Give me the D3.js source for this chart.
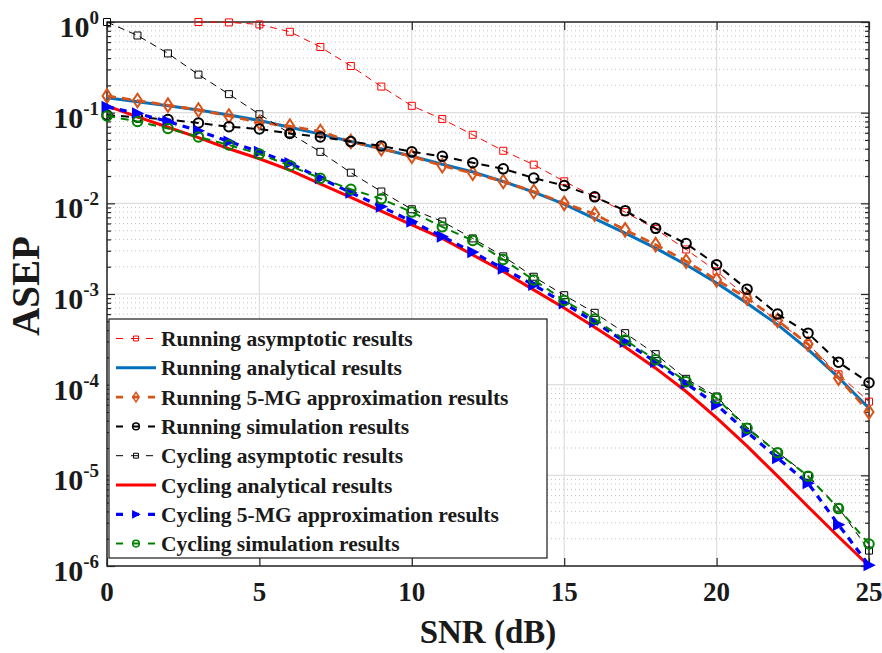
<!DOCTYPE html>
<html>
<head>
<meta charset="utf-8">
<script src="https://cdn.jsdelivr.net/npm/d3@7"></script>
<style>
  html, body { margin: 0; padding: 0; background: #fff; }
  svg { display: block; }
  text { font-family: "Liberation Serif", "Times New Roman", serif; font-weight: bold; fill: #1a1a1a; }
</style>
</head>
<body>
<svg id="chart" width="882" height="653"></svg>
<script>
// ---------------- DATA ----------------
const snr = d3.range(0, 26); // 0..25 dB
const snrRunAsym = d3.range(3, 26);

const runningAsymptotic = [1.0, 0.99, 0.94, 0.78, 0.53, 0.327, 0.194, 0.119, 0.085, 0.057, 0.038, 0.0267,
  0.0175, 0.0118, 0.0080, 0.0052, 0.0031, 0.00178, 0.00092, 0.00050, 0.00028, 0.000130, 6.5e-5];
const runningAnalytical = [0.146, 0.132, 0.119, 0.107, 0.094, 0.082, 0.069, 0.058, 0.048, 0.040, 0.033,
  0.027, 0.0222, 0.0174, 0.0133, 0.0098, 0.0068, 0.0047, 0.0032, 0.0021, 0.00132, 0.00079, 0.00046,
  0.000245, 0.000120, 5.5e-5];
const running5MG = [0.153, 0.136, 0.121, 0.107, 0.092, 0.078, 0.071, 0.062, 0.048, 0.040, 0.033, 0.026,
  0.0215, 0.0174, 0.0135, 0.0100, 0.0076, 0.0051, 0.0035, 0.0023, 0.00143, 0.00090, 0.00051, 0.00028,
  0.000118, 5.0e-5];
const runningSimulation = [0.094, 0.089, 0.084, 0.077, 0.070, 0.066, 0.059, 0.054, 0.048, 0.043, 0.037,
  0.033, 0.028, 0.024, 0.019, 0.0157, 0.0118, 0.0083, 0.0053, 0.0036, 0.0021, 0.00113, 0.00060, 0.00037,
  0.000177, 0.000105];
const cyclingAsymptotic = [1.0, 0.71, 0.45, 0.263, 0.16, 0.096, 0.059, 0.037, 0.0218, 0.0135, 0.0086,
  0.0063, 0.0041, 0.0026, 0.00155, 0.00097, 0.00062, 0.00037, 0.000217, 0.000116, 7.4e-5, 3.4e-5,
  1.8e-5, 9.9e-6, 4.4e-6, 1.48e-6];
const cyclingAnalytical = [0.119, 0.090, 0.069, 0.053, 0.040, 0.031, 0.0232, 0.0164, 0.0116, 0.0082,
  0.0058, 0.0041, 0.0027, 0.00177, 0.00111, 0.00070, 0.00043, 0.00026, 0.000152, 8.4e-5, 4.3e-5,
  2.1e-5, 9.8e-6, 4.5e-6, 2.1e-6, 1.0e-6];
const cycling5MG = [0.116, 0.098, 0.080, 0.063, 0.048, 0.037, 0.0277, 0.019, 0.0131, 0.0092, 0.0063,
  0.0043, 0.0029, 0.0019, 0.00126, 0.00079, 0.00049, 0.000296, 0.000178, 0.000103, 6.0e-5, 3.0e-5,
  1.55e-5, 8.2e-6, 2.85e-6, 1.02e-6];
const cyclingSimulation = [0.092, 0.080, 0.067, 0.054, 0.044, 0.035, 0.026, 0.0189, 0.0143, 0.0112,
  0.0080, 0.0055, 0.0039, 0.0024, 0.00143, 0.00085, 0.00053, 0.00031, 0.000188, 0.000108, 7.1e-5,
  3.3e-5, 1.78e-5, 9.8e-6, 4.3e-6, 1.75e-6];

const legendLabels = [
  "Running asymptotic results", "Running analytical results", "Running 5-MG approximation results",
  "Running simulation results", "Cycling asymptotic results", "Cycling analytical results",
  "Cycling 5-MG approximation results", "Cycling simulation results"];
const xTickValues = [0, 5, 10, 15, 20, 25];
const yTickExponents = [0, -1, -2, -3, -4, -5, -6];
const xLabel = "SNR (dB)";
const yLabel = "ASEP";

// ---------------- LAYOUT ----------------
const L = 107, R = 869, T = 22, B = 566;
const svg = d3.select("#chart");
const x = d3.scaleLinear().domain([0, 25]).range([L, R]);
const y = d3.scaleLog().domain([1e-6, 1]).range([B, T]);
const axisColor = "#262626";

// grid
const g = svg.append("g");
const minorY = [];
for (let e = -6; e < 0; e++) for (let m = 2; m <= 9; m++) minorY.push(m * Math.pow(10, e));
g.selectAll(".minor").data(minorY).enter().append("line")
  .attr("x1", L).attr("x2", R).attr("y1", d => y(d)).attr("y2", d => y(d))
  .attr("stroke", "#c4c4c4").attr("stroke-width", 1).attr("stroke-dasharray", "1,3");
g.selectAll(".majorY").data(yTickExponents.map(e => Math.pow(10, e))).enter().append("line")
  .attr("x1", L).attr("x2", R).attr("y1", d => y(d)).attr("y2", d => y(d))
  .attr("stroke", "#dedede").attr("stroke-width", 1.2);
g.selectAll(".majorX").data(xTickValues).enter().append("line")
  .attr("x1", d => x(d)).attr("x2", d => x(d)).attr("y1", T).attr("y2", B)
  .attr("stroke", "#dedede").attr("stroke-width", 1.2);

// axes via d3 axis (ticks inward)
const yTicksAll = yTickExponents.map(e => Math.pow(10, e));
const axL = svg.append("g").attr("transform", `translate(${L},0)`)
  .call(d3.axisRight(y).tickValues(yTicksAll).tickSize(8).tickFormat(""));
const axLm = svg.append("g").attr("transform", `translate(${L},0)`)
  .call(d3.axisRight(y).tickValues(minorY).tickSize(4).tickFormat(""));
const axR = svg.append("g").attr("transform", `translate(${R},0)`)
  .call(d3.axisLeft(y).tickValues(yTicksAll).tickSize(8).tickFormat(""));
const axRm = svg.append("g").attr("transform", `translate(${R},0)`)
  .call(d3.axisLeft(y).tickValues(minorY).tickSize(4).tickFormat(""));
const axB = svg.append("g").attr("transform", `translate(0,${B})`)
  .call(d3.axisTop(x).tickValues(xTickValues).tickSize(8).tickFormat(""));
const axT = svg.append("g").attr("transform", `translate(0,${T})`)
  .call(d3.axisBottom(x).tickValues(xTickValues).tickSize(8).tickFormat(""));
[axL, axLm, axR, axRm, axB, axT].forEach(a => {
  a.selectAll("path.domain").remove();
  a.selectAll("line").attr("stroke", axisColor).attr("stroke-width", 1.2);
});
svg.append("rect").attr("x", L).attr("y", T).attr("width", R - L).attr("height", B - T)
  .attr("fill", "none").attr("stroke", axisColor).attr("stroke-width", 1.5);

// tick labels
const yl = svg.append("g");
yTickExponents.forEach(e => {
  const v = Math.pow(10, e);
  const t = yl.append("text").attr("x", 99).attr("y", y(v) + 15).attr("text-anchor", "end");
  t.append("tspan").attr("font-size", 30).text("10");
  t.append("tspan").attr("font-size", 19).attr("dy", -13).text(e === 0 ? "0" : String(e));
});
svg.append("g").selectAll("text").data(xTickValues).enter().append("text")
  .attr("x", d => x(d)).attr("y", 601).attr("text-anchor", "middle").attr("font-size", 27)
  .text(d => d);

svg.append("text").attr("x", 488).attr("y", 643).attr("text-anchor", "middle")
  .attr("font-size", 33).text(xLabel);
svg.append("text").attr("transform", "translate(39,286) rotate(-90)").attr("text-anchor", "middle")
  .attr("font-size", 39).text(yLabel);

// ---------------- SERIES ----------------
const seriesDefs = [
  { xs: snrRunAsym, ys: runningAsymptotic, color: "#ff0000", width: 1, dash: "7,5", marker: "square", ms: 7, mw: 1 },
  { xs: snr, ys: runningAnalytical, color: "#0072bd", width: 3, dash: null, marker: null },
  { xs: snr, ys: running5MG, color: "#d95319", width: 2.8, dash: "9,6", marker: "diamond", ms: 9, mw: 2 },
  { xs: snr, ys: runningSimulation, color: "#000000", width: 2, dash: "8,6", marker: "circle", ms: 9.5, mw: 2 },
  { xs: snr, ys: cyclingAsymptotic, color: "#000000", width: 1, dash: "7,5", marker: "square", ms: 7, mw: 1 },
  { xs: snr, ys: cyclingAnalytical, color: "#ff0000", width: 3, dash: null, marker: null },
  { xs: snr, ys: cycling5MG, color: "#0000ff", width: 3.2, dash: "7,6", marker: "triangle", ms: 9, mw: 2 },
  { xs: snr, ys: cyclingSimulation, color: "#008000", width: 2, dash: "8,6", marker: "circle", ms: 9.5, mw: 2 }
];

function markerPath(type, s) {
  const h = s / 2;
  if (type === "square") return `M${-h},${-h}H${h}V${h}H${-h}Z`;
  if (type === "diamond") return `M0,${-h * 1.5}L${h},0L0,${h * 1.5}L${-h},0Z`;
  if (type === "triangle") return `M${h},0L${-h},${-h}L${-h},${h}Z`;
  return null;
}
function drawMarker(sel, def, cx, cy, scale) {
  const s = def.ms * scale;
  if (def.marker === "circle") {
    sel.append("circle").attr("cx", cx).attr("cy", cy).attr("r", s / 2)
      .attr("fill", "none").attr("stroke", def.color).attr("stroke-width", def.mw);
  } else {
    sel.append("path").attr("transform", `translate(${cx},${cy})`)
      .attr("d", markerPath(def.marker, s))
      .attr("fill", def.marker === "triangle" ? def.color : "none")
      .attr("stroke", def.color).attr("stroke-width", def.mw).attr("stroke-linejoin", "miter");
  }
}

const plot = svg.append("g");
seriesDefs.forEach(def => {
  const pts = def.xs.map((xv, i) => [xv, def.ys[i]]);
  const line = d3.line().x(d => x(d[0])).y(d => y(d[1]));
  const p = plot.append("path").datum(pts).attr("d", line).attr("fill", "none")
    .attr("stroke", def.color).attr("stroke-width", def.width);
  if (def.dash) p.attr("stroke-dasharray", def.dash);
  if (def.marker) {
    const mg = plot.append("g");
    pts.forEach(d => drawMarker(mg, def, x(d[0]), y(d[1]), 1));
  }
});

// ---------------- LEGEND ----------------
const lg = svg.append("g");
lg.append("rect").attr("x", 109).attr("y", 319).attr("width", 438).attr("height", 239)
  .attr("fill", "#fff").attr("stroke", "#1a1a1a").attr("stroke-width", 1.2);
seriesDefs.forEach((def, i) => {
  const cy = 338.5 + i * 29.3;
  const ln = lg.append("line").attr("x1", 116).attr("x2", 156).attr("y1", cy).attr("y2", cy)
    .attr("stroke", def.color).attr("stroke-width", def.width);
  if (def.dash) ln.attr("stroke-dasharray", def.dash === "7,5" ? "7,8" : "7,9");
  if (def.marker) drawMarker(lg, Object.assign({}, def, { mw: Math.min(def.mw, 1.5) }), 136, cy, 0.7);
  lg.append("text").attr("x", 161).attr("y", cy + 7.5).attr("font-size", 21.5).text(legendLabels[i]);
});
</script>
</body>
</html>
